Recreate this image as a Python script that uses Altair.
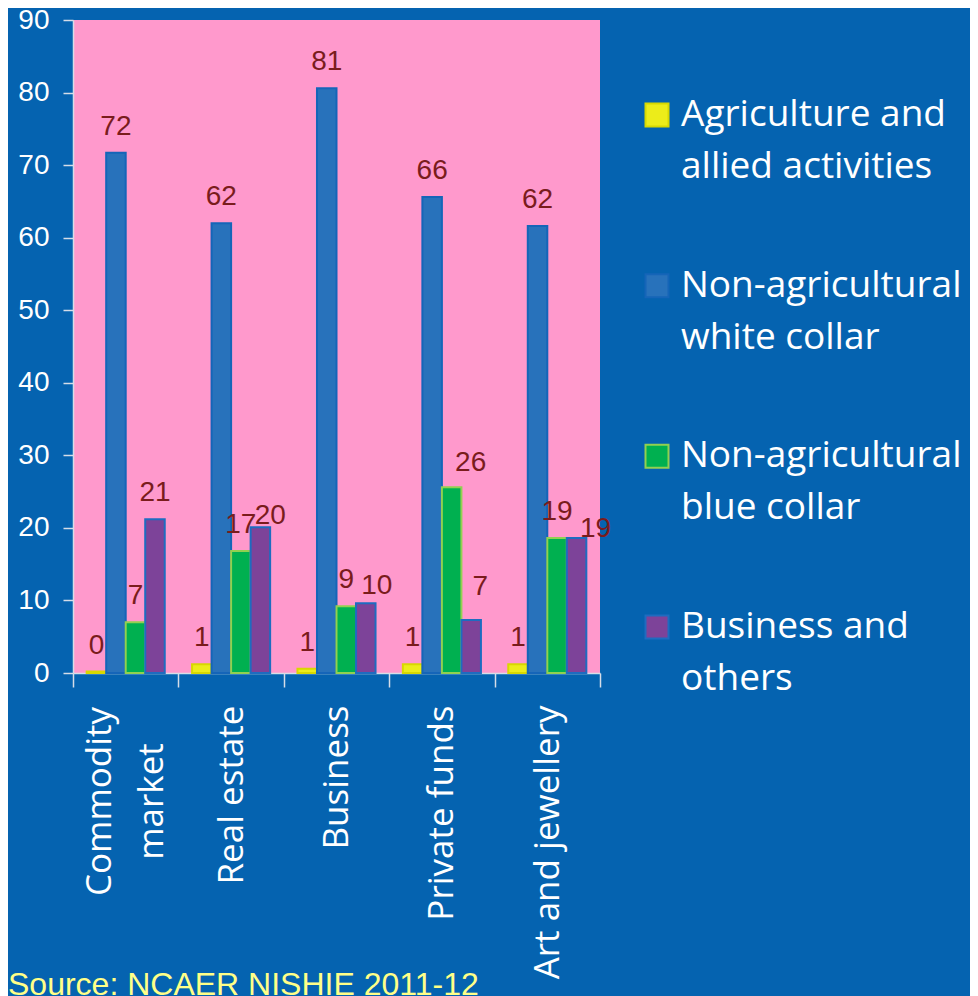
import altair as alt
import pandas as pd

categories = ["Commodity market", "Real estate", "Business", "Private funds", "Art and jewellery"]
series = [
    "Agriculture and allied activities",
    "Non-agricultural white collar",
    "Non-agricultural blue collar",
    "Business and others",
]
agri = [0.2, 1.2, 0.6, 1.2, 1.2]
white_collar = [71.7, 62.0, 80.6, 65.6, 61.6]
blue_collar = [7.0, 16.8, 9.2, 25.6, 18.6]
business_others = [21.2, 20.1, 9.6, 7.3, 18.6]
y_ticks = [0, 10, 20, 30, 40, 50, 60, 70, 80, 90]
legend_line1 = ["Agriculture and", "Non-agricultural", "Non-agricultural", "Business and"]
legend_line2 = ["allied activities", "white collar", "blue collar", "others"]
source_text = ["Source: NCAER NISHIE 2011-12"]

fills = ["#ecec1a", "#2872bb", "#00b050", "#7d4399"]
strokes = ["#d8d800", "#1565b8", "#92d050", "#1e6cc0"]

BG = "#0563b0"
PINK = "#ff99cc"
AXIS_COL = "#d6dde8"
LABEL_COL = "#7a1c1c"

rows = []
for name, vals in zip(series, [agri, white_collar, blue_collar, business_others]):
    for c, v in zip(categories, vals):
        rows.append({"category": c, "series": name, "value": v})
df = pd.DataFrame(rows)

# data labels that were hand-moved in the original chart: (category, series) -> (dx, dy)
label_nudges = {
    ("Real estate", "Business and others"): (10, -3),
    ("Business", "Business and others"): (11, -9),
    ("Private funds", "Non-agricultural blue collar"): (19, -16),
    ("Private funds", "Business and others"): (9, -25),
    ("Art and jewellery", "Business and others"): (19, -1),
}
DEFAULT_DY = -18

is_commodity = "datum.value == 'Commodity market'"
label_expr = "datum.label == 'Commodity market' ? ['Commodity', 'market'] : datum.label"

x_enc = alt.X(
    "category:N",
    sort=categories,
    scale=alt.Scale(paddingInner=0, paddingOuter=0),
    axis=alt.Axis(
        title=None,
        labelAngle=-90,
        tickBand="extent",
        tickSize=14,
        labelPadding={"condition": {"test": is_commodity, "value": 114}, "value": 18},
        labelAlign={"condition": {"test": is_commodity, "value": "center"}, "value": "right"},
        labelOffset={"condition": {"test": is_commodity, "value": -26}, "value": 0},
        labelFont="Open Sans",
        labelFontSize=35,
        labelColor="white",
        labelLineHeight=52,
        labelLimit=0,
        labelExpr=label_expr,
        domainColor=AXIS_COL,
        tickColor=AXIS_COL,
        domainWidth=1.5,
        tickWidth=1.5,
    ),
)
xoff_enc = alt.XOffset(
    "series:N", sort=series, scale=alt.Scale(paddingInner=0, paddingOuter=0.7)
)
y_enc = alt.Y(
    "value:Q",
    scale=alt.Scale(domain=[0, 90], nice=False),
    axis=alt.Axis(
        title=None,
        values=y_ticks,
        grid=False,
        tickSize=10,
        labelPadding=14,
        labelFont="Liberation Sans",
        labelFontSize=28,
        labelColor="white",
        domainColor=AXIS_COL,
        tickColor=AXIS_COL,
        domainWidth=1.5,
        tickWidth=1.5,
    ),
)
color_scale = alt.Scale(domain=series, range=fills)
stroke_scale = alt.Scale(domain=series, range=strokes)

base = alt.Chart(df)
bars = base.mark_bar(strokeWidth=2).encode(
    x=x_enc,
    xOffset=xoff_enc,
    y=y_enc,
    color=alt.Color("series:N", scale=color_scale, legend=None),
    stroke=alt.Stroke("series:N", scale=stroke_scale, legend=None),
)


def label_layer(filter_expr, dx, dy):
    return (
        base.transform_filter(filter_expr)
        .mark_text(
            dx=dx,
            dy=dy,
            baseline="alphabetic",
            font="Liberation Sans",
            fontSize=28,
            color=LABEL_COL,
        )
        .encode(
            x=alt.X("category:N", sort=categories),
            xOffset=alt.XOffset("series:N", sort=series),
            y=alt.Y("value:Q"),
            text=alt.Text("value:Q", format=".0f"),
        )
    )


def key_expr(cat, ser):
    return f"(datum.category == '{cat}' && datum.series == '{ser}')"


nudged_keys = [key_expr(c, s) for (c, s) in label_nudges]
label_layers = [label_layer("!(" + " || ".join(nudged_keys) + ")", 0, DEFAULT_DY)]
for (c, s), (dx, dy) in label_nudges.items():
    label_layers.append(label_layer(key_expr(c, s), dx, dy))

source = alt.Chart(pd.DataFrame({"t": source_text})).mark_text(
    align="left", baseline="alphabetic", font="Liberation Sans", fontSize=32, color="#ffff88"
).encode(x=alt.value(-65), y=alt.value(975), text="t:N")

bar_chart = alt.layer(bars, *label_layers, source).properties(
    width=527, height=653, view=alt.ViewBackground(fill=PINK, strokeWidth=0)
)

leg_df = pd.DataFrame({"series": series, "line1": legend_line1, "line2": legend_line2})
leg_y = alt.Y(
    "series:N", sort=series, scale=alt.Scale(type="point", padding=0.5566), axis=None
)
leg_base = alt.Chart(leg_df)
sym = leg_base.mark_square(size=529, strokeWidth=2, filled=True, opacity=1).encode(
    x=alt.value(37),
    y=leg_y,
    color=alt.Color("series:N", scale=color_scale, legend=None),
    stroke=alt.Stroke("series:N", scale=stroke_scale, legend=None),
)
t1 = leg_base.mark_text(
    align="left", baseline="middle", font="Open Sans", fontSize=37, color="white"
).encode(x=alt.value(61), y=leg_y, text="line1:N")
t2 = leg_base.mark_text(
    align="left", baseline="middle", font="Open Sans", fontSize=37, color="white", dy=52
).encode(x=alt.value(61), y=leg_y, text="line2:N")
legend_chart = alt.layer(sym, t1, t2).properties(
    width=350, height=702, view=alt.ViewBackground(fill="transparent", strokeWidth=0)
)

chart = (
    alt.hconcat(bar_chart, legend_chart, spacing=20, bounds="flush")
    .properties(background=BG, padding={"left": 0, "top": -2, "right": 0, "bottom": 0})
    .configure_view(strokeWidth=0)
)

chart.save("out.html", embed_options={"renderer": "svg", "actions": False})
